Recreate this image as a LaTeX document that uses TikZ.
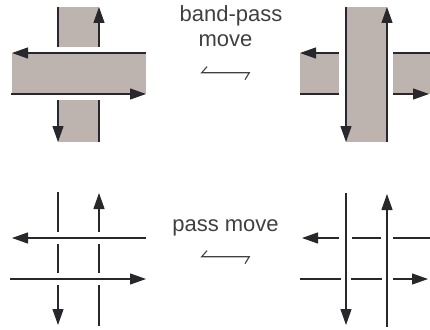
\documentclass[tikz,border=0pt]{standalone}
\usepackage{fontspec}
\setmainfont{Liberation Sans}
\usetikzlibrary{arrows.meta}
\definecolor{bandgray}{RGB}{189,180,175}
\definecolor{strandgray}{RGB}{40,40,44}
\tikzset{
  strand/.style={line width=1.2pt, draw=strandgray},
  arr/.style={-{Triangle[length=16pt,width=11pt]}},
  band/.style={fill=bandgray},
  movelabel/.style={text=black!75, font=\fontsize{22}{25}\selectfont, inner sep=0pt, anchor=base},
  harpoon/.style={line width=1.1pt, draw=black!75}
}
\begin{document}
\begin{tikzpicture}[x=1pt,y=-1pt]
        \useasboundingbox (0,0) rectangle (430,329);

        \fill[band] (58,7) rectangle (99,47);
        \fill[band] (58,100) rectangle (99,142);
        \fill[band] (12,53) rectangle (146,94);
        \draw[strand] (58,7) -- (58,47);
        \draw[strand,arr] (99,47) -- (99,7);
        \draw[strand,arr] (58,100) -- (58,142);
        \draw[strand] (99,100) -- (99,142);
        \draw[strand,arr] (146,53) -- (12,53);
        \draw[strand,arr] (11,94) -- (146,94);

        \fill[band] (346,7) rectangle (387,142);
        \fill[band] (300,53) rectangle (339,94);
        \fill[band] (393,53) rectangle (430,94);
        \draw[strand,arr] (346,7) -- (346,142);
        \draw[strand,arr] (387,142) -- (387,7);
        \draw[strand,arr] (339,53) -- (300,53);
        \draw[strand] (300,94) -- (339,94);
        \draw[strand] (393,53) -- (430,53);
        \draw[strand,arr] (393,94) -- (429,94);

        \draw[strand] (58,192) -- (58,232) (58,244) -- (58,273);
        \draw[strand,arr] (58,285) -- (58,325);
        \draw[strand,arr] (99,232) -- (99,193);
        \draw[strand] (99,244) -- (99,273) (99,285) -- (99,326);
        \draw[strand,arr] (146,238) -- (12,238);
        \draw[strand,arr] (10,279) -- (146,279);

        \draw[strand,arr] (346,193) -- (346,325);
        \draw[strand,arr] (387,327) -- (387,194);
        \draw[strand,arr] (339,238) -- (302,238);
        \draw[strand] (352,238) -- (381,238) (393,238) -- (430,238);
        \draw[strand] (300,279) -- (341,279) (351,279) -- (382,279);
        \draw[strand,arr] (393,279) -- (428,279);

        \node[movelabel] (bandpass) at (231,22) {band-pass};
        \node[movelabel] (bpmove) at (225.5,46) {move};
        \node[movelabel] (passmove) at (225.5,231) {pass move};
        \foreach \y in {72.7,256.7}
            \draw[harpoon] (207,\y-6) -- (201.7,\y) -- (249.3,\y) -- (245,\y+7);
    \end{tikzpicture}
\end{document}
